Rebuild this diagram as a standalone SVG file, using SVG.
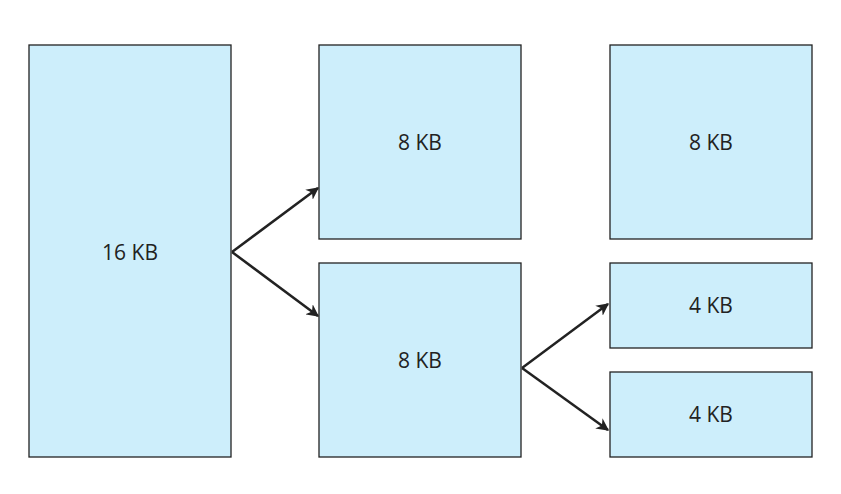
<svg xmlns="http://www.w3.org/2000/svg" width="841" height="494" viewBox="0 0 841 494">
<style>
.b{fill:#cdeefb;stroke:#222;stroke-width:1.3}
.t{font-family:"Open Sans","Liberation Sans",sans-serif;font-size:21px;fill:#222;text-anchor:middle;dominant-baseline:central}
.c{stroke:#222;stroke-width:2.5;fill:none;marker-end:url(#a)}
</style>
<defs><marker id="a" viewBox="0 0 10 10" refX="9" refY="5" markerWidth="5" markerHeight="5" orient="auto" markerUnits="strokeWidth"><path d="M0,0L10,5L0,10L3,5z" fill="#222"/></marker></defs>
<rect width="841" height="494" fill="#fff"/>
<g id="n16"><rect class="b" x="29" y="45" width="202" height="412"/><text class="t" x="130" y="252">16 KB</text></g>
<g id="n8a"><rect class="b" x="319" y="45" width="202" height="194"/><text class="t" x="420" y="142">8 KB</text></g>
<g id="n8b"><rect class="b" x="319" y="263" width="202" height="194"/><text class="t" x="420" y="360">8 KB</text></g>
<g id="n8c"><rect class="b" x="610" y="45" width="202" height="194"/><text class="t" x="711" y="142">8 KB</text></g>
<g id="n4a"><rect class="b" x="610" y="263" width="202" height="85"/><text class="t" x="711" y="305">4 KB</text></g>
<g id="n4b"><rect class="b" x="610" y="372" width="202" height="85"/><text class="t" x="711" y="414">4 KB</text></g>
<g id="connectors">
<path class="c" d="M232,252L318,188"/>
<path class="c" d="M232,252L318,316"/>
<path class="c" d="M522,368L608,304"/>
<path class="c" d="M522,368L608,430"/>
</g>
</svg>
